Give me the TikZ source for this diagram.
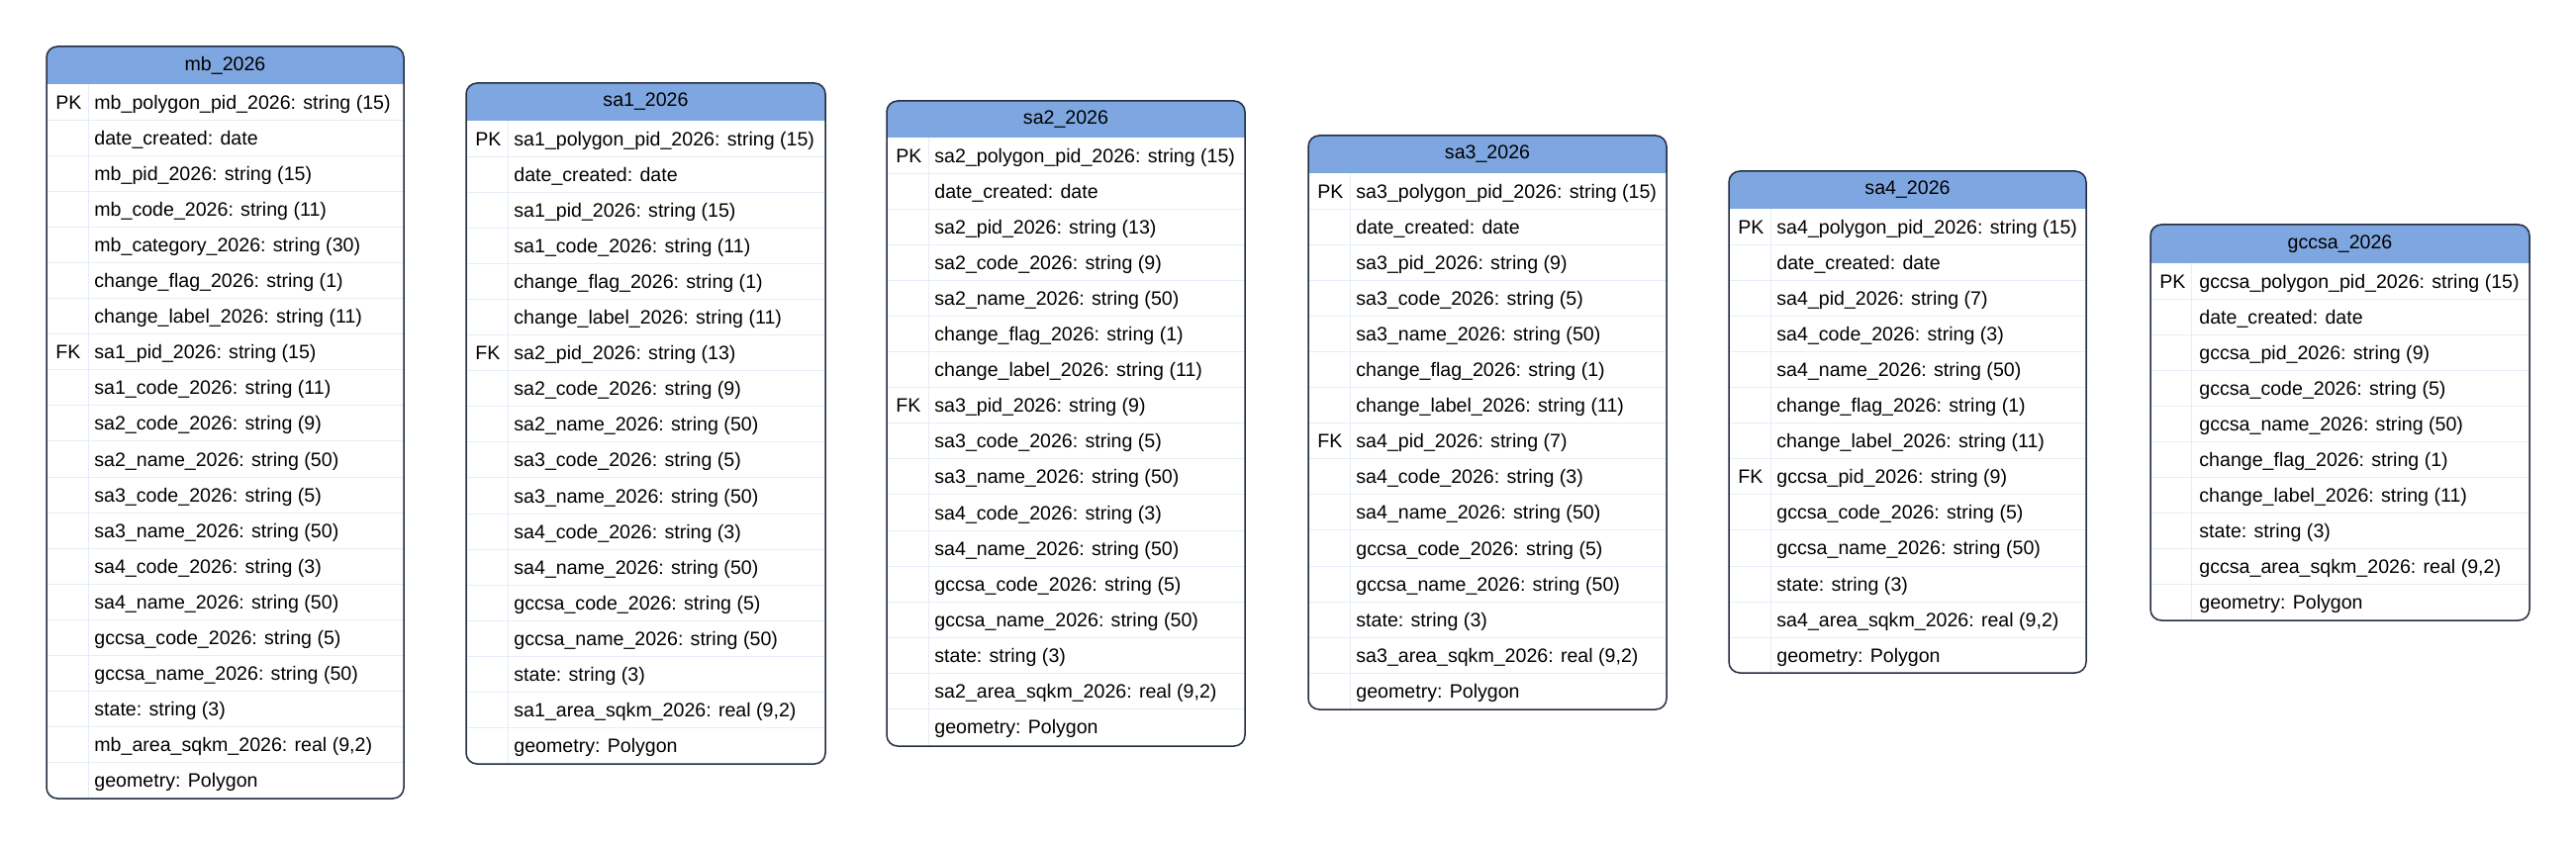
\documentclass[tikz,border=0pt]{standalone}
\usepackage{fontspec}
\setmainfont{Liberation Sans}
\usepackage{tikz}
\usepackage{xcolor}
\definecolor{headblue}{RGB}{126,166,224}
\definecolor{tableline}{RGB}{35,45,65}
\definecolor{rowgrey}{RGB}{230,237,248}

\begin{document}
\begin{tikzpicture}[x=0.5pt,y=-0.5pt,
    font=\fontsize{9.8}{11}\selectfont,
    tabtitle/.style={anchor=center,inner sep=0pt},
    keytext/.style={anchor=base west,inner sep=0pt},
    fieldtext/.style={anchor=base west,inner sep=0pt},
    rowline/.style={rowgrey,line width=0.5pt},
    tableframe/.style={tableline,line width=0.75pt,rounded corners=5.5pt}]
        \useasboundingbox (0,0) rectangle (2603,855);

        % mb_2026
        \begin{scope}[shift={(47,47)}]
            \begin{scope}
                \clip[rounded corners=5.5pt] (0,0) rectangle (361,760);
                \fill[white] (0,0) rectangle (361,760);
                \fill[headblue] (0,0) rectangle (361,38);
            \end{scope}
            \foreach \i in {1,...,19} \draw[rowline] (0,{38+\i*36.1}) -- (361,{38+\i*36.1});
            \draw[rowline] (42,38) -- (42,760);
            \draw[tableframe] (0,0) rectangle (361,760);
            \node[tabtitle] (mb) at (180.5,19) {mb\_2026};
            \node[keytext] (mb-pk) at (9,{38+0.5*36.1+7}) {PK};
            \node[keytext] (mb-fk) at (9,{38+7.5*36.1+7}) {FK};
            \foreach \f [count=\i] in {mb\_polygon\_pid\_2026: string (15), date\_created: date,
                mb\_pid\_2026: string (15), mb\_code\_2026: string (11), mb\_category\_2026: string (30),
                change\_flag\_2026: string (1), change\_label\_2026: string (11), sa1\_pid\_2026: string (15),
                sa1\_code\_2026: string (11), sa2\_code\_2026: string (9), sa2\_name\_2026: string (50),
                sa3\_code\_2026: string (5), sa3\_name\_2026: string (50), sa4\_code\_2026: string (3),
                sa4\_name\_2026: string (50), gccsa\_code\_2026: string (5), gccsa\_name\_2026: string (50),
                state: string (3), {mb\_area\_sqkm\_2026: real (9,2)}, geometry: Polygon}
                \node[fieldtext] (mb-f\i) at (48,{38+(\i-0.5)*36.1+7}) {\f};
        \end{scope}

        % sa1_2026
        \begin{scope}[shift={(471,84)}]
            \begin{scope}
                \clip[rounded corners=5.5pt] (0,0) rectangle (363,688);
                \fill[white] (0,0) rectangle (363,688);
                \fill[headblue] (0,0) rectangle (363,38);
            \end{scope}
            \foreach \i in {1,...,17} \draw[rowline] (0,{38+\i*36.1}) -- (363,{38+\i*36.1});
            \draw[rowline] (42,38) -- (42,688);
            \draw[tableframe] (0,0) rectangle (363,688);
            \node[tabtitle] (sa1) at (181.5,19) {sa1\_2026};
            \node[keytext] (sa1-pk) at (9,{38+0.5*36.1+7}) {PK};
            \node[keytext] (sa1-fk) at (9,{38+6.5*36.1+7}) {FK};
            \foreach \f [count=\i] in {sa1\_polygon\_pid\_2026: string (15), date\_created: date,
                sa1\_pid\_2026: string (15), sa1\_code\_2026: string (11), change\_flag\_2026: string (1),
                change\_label\_2026: string (11), sa2\_pid\_2026: string (13), sa2\_code\_2026: string (9),
                sa2\_name\_2026: string (50), sa3\_code\_2026: string (5), sa3\_name\_2026: string (50),
                sa4\_code\_2026: string (3), sa4\_name\_2026: string (50), gccsa\_code\_2026: string (5),
                gccsa\_name\_2026: string (50), state: string (3), {sa1\_area\_sqkm\_2026: real (9,2)},
                geometry: Polygon}
                \node[fieldtext] (sa1-f\i) at (48,{38+(\i-0.5)*36.1+7}) {\f};
        \end{scope}

        % sa2_2026
        \begin{scope}[shift={(896,102)}]
            \begin{scope}
                \clip[rounded corners=5.5pt] (0,0) rectangle (362,652);
                \fill[white] (0,0) rectangle (362,652);
                \fill[headblue] (0,0) rectangle (362,37);
            \end{scope}
            \foreach \i in {1,...,16} \draw[rowline] (0,{37+\i*36.1}) -- (362,{37+\i*36.1});
            \draw[rowline] (42,37) -- (42,652);
            \draw[tableframe] (0,0) rectangle (362,652);
            \node[tabtitle] (sa2) at (181,18.5) {sa2\_2026};
            \node[keytext] (sa2-pk) at (9,{37+0.5*36.1+7}) {PK};
            \node[keytext] (sa2-fk) at (9,{37+7.5*36.1+7}) {FK};
            \foreach \f [count=\i] in {sa2\_polygon\_pid\_2026: string (15), date\_created: date,
                sa2\_pid\_2026: string (13), sa2\_code\_2026: string (9), sa2\_name\_2026: string (50),
                change\_flag\_2026: string (1), change\_label\_2026: string (11), sa3\_pid\_2026: string (9),
                sa3\_code\_2026: string (5), sa3\_name\_2026: string (50), sa4\_code\_2026: string (3),
                sa4\_name\_2026: string (50), gccsa\_code\_2026: string (5), gccsa\_name\_2026: string (50),
                state: string (3), {sa2\_area\_sqkm\_2026: real (9,2)}, geometry: Polygon}
                \node[fieldtext] (sa2-f\i) at (48,{37+(\i-0.5)*36.1+7}) {\f};
        \end{scope}

        % sa3_2026
        \begin{scope}[shift={(1322,137)}]
            \begin{scope}
                \clip[rounded corners=5.5pt] (0,0) rectangle (362,580);
                \fill[white] (0,0) rectangle (362,580);
                \fill[headblue] (0,0) rectangle (362,38);
            \end{scope}
            \foreach \i in {1,...,14} \draw[rowline] (0,{38+\i*36.1}) -- (362,{38+\i*36.1});
            \draw[rowline] (42,38) -- (42,580);
            \draw[tableframe] (0,0) rectangle (362,580);
            \node[tabtitle] (sa3) at (181,19) {sa3\_2026};
            \node[keytext] (sa3-pk) at (9,{38+0.5*36.1+7}) {PK};
            \node[keytext] (sa3-fk) at (9,{38+7.5*36.1+7}) {FK};
            \foreach \f [count=\i] in {sa3\_polygon\_pid\_2026: string (15), date\_created: date,
                sa3\_pid\_2026: string (9), sa3\_code\_2026: string (5), sa3\_name\_2026: string (50),
                change\_flag\_2026: string (1), change\_label\_2026: string (11), sa4\_pid\_2026: string (7),
                sa4\_code\_2026: string (3), sa4\_name\_2026: string (50), gccsa\_code\_2026: string (5),
                gccsa\_name\_2026: string (50), state: string (3), {sa3\_area\_sqkm\_2026: real (9,2)},
                geometry: Polygon}
                \node[fieldtext] (sa3-f\i) at (48,{38+(\i-0.5)*36.1+7}) {\f};
        \end{scope}

        % sa4_2026
        \begin{scope}[shift={(1747,173)}]
            \begin{scope}
                \clip[rounded corners=5.5pt] (0,0) rectangle (361,507);
                \fill[white] (0,0) rectangle (361,507);
                \fill[headblue] (0,0) rectangle (361,38);
            \end{scope}
            \foreach \i in {1,...,12} \draw[rowline] (0,{38+\i*36.1}) -- (361,{38+\i*36.1});
            \draw[rowline] (42,38) -- (42,507);
            \draw[tableframe] (0,0) rectangle (361,507);
            \node[tabtitle] (sa4) at (180.5,19) {sa4\_2026};
            \node[keytext] (sa4-pk) at (9,{38+0.5*36.1+7}) {PK};
            \node[keytext] (sa4-fk) at (9,{38+7.5*36.1+7}) {FK};
            \foreach \f [count=\i] in {sa4\_polygon\_pid\_2026: string (15), date\_created: date,
                sa4\_pid\_2026: string (7), sa4\_code\_2026: string (3), sa4\_name\_2026: string (50),
                change\_flag\_2026: string (1), change\_label\_2026: string (11), gccsa\_pid\_2026: string (9),
                gccsa\_code\_2026: string (5), gccsa\_name\_2026: string (50), state: string (3),
                {sa4\_area\_sqkm\_2026: real (9,2)}, geometry: Polygon}
                \node[fieldtext] (sa4-f\i) at (48,{38+(\i-0.5)*36.1+7}) {\f};
        \end{scope}

        % gccsa_2026
        \begin{scope}[shift={(2173,227)}]
            \begin{scope}
                \clip[rounded corners=5.5pt] (0,0) rectangle (383,400);
                \fill[white] (0,0) rectangle (383,400);
                \fill[headblue] (0,0) rectangle (383,39);
            \end{scope}
            \foreach \i in {1,...,9} \draw[rowline] (0,{39+\i*36.1}) -- (383,{39+\i*36.1});
            \draw[rowline] (41,39) -- (41,400);
            \draw[tableframe] (0,0) rectangle (383,400);
            \node[tabtitle] (gccsa) at (191.5,19.5) {gccsa\_2026};
            \node[keytext] (gccsa-pk) at (9,{39+0.5*36.1+7}) {PK};
            \foreach \f [count=\i] in {gccsa\_polygon\_pid\_2026: string (15), date\_created: date,
                gccsa\_pid\_2026: string (9), gccsa\_code\_2026: string (5), gccsa\_name\_2026: string (50),
                change\_flag\_2026: string (1), change\_label\_2026: string (11), state: string (3),
                {gccsa\_area\_sqkm\_2026: real (9,2)}, geometry: Polygon}
                \node[fieldtext] (gccsa-f\i) at (49,{39+(\i-0.5)*36.1+7}) {\f};
        \end{scope}
    \end{tikzpicture}
\end{document}
